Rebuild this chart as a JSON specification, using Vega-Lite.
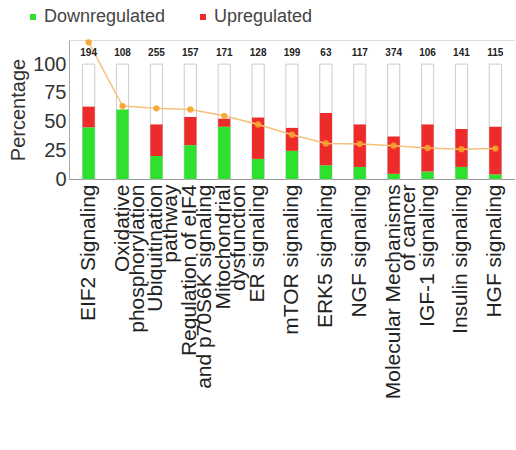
{
  "$schema": "https://vega.github.io/schema/vega-lite/v6.json",
  "width": 446,
  "height": 139,
  "padding": {"left": 8, "top": 8, "right": 0, "bottom": 5},
  "config": {
    "font": "Liberation Sans",
    "view": {"stroke": "#dddddd"},
    "axis": {"grid": false, "ticks": false, "domainColor": "#aaaaaa", "labelColor": "#333333", "titleColor": "#333333"}
  },
  "data": {
    "values": [
      {"pathway": "EIF2 Signaling", "Downregulated": 45, "Upregulated": 18, "molecules": 194, "score": 119},
      {"pathway": "Oxidative|phosphorylation", "Downregulated": 60.5, "Upregulated": 0, "molecules": 108, "score": 63.5},
      {"pathway": "Ubiquitination|pathway", "Downregulated": 20, "Upregulated": 27.5, "molecules": 255, "score": 61.5},
      {"pathway": "Regulation of eIF4|and p70S6K signaling", "Downregulated": 29.5, "Upregulated": 24.5, "molecules": 157, "score": 60.5},
      {"pathway": "Mitochondrial|dysfunction", "Downregulated": 45.5, "Upregulated": 7, "molecules": 171, "score": 55},
      {"pathway": "ER signaling", "Downregulated": 17.5, "Upregulated": 36, "molecules": 128, "score": 47.5},
      {"pathway": "mTOR signaling", "Downregulated": 24.5, "Upregulated": 20, "molecules": 199, "score": 38.5},
      {"pathway": "ERK5 signaling", "Downregulated": 12, "Upregulated": 45.5, "molecules": 63, "score": 31},
      {"pathway": "NGF signaling", "Downregulated": 10.5, "Upregulated": 37, "molecules": 117, "score": 30.5},
      {"pathway": "Molecular Mechanisms|of cancer", "Downregulated": 4.5, "Upregulated": 32.5, "molecules": 374, "score": 29},
      {"pathway": "IGF-1 signaling", "Downregulated": 6.5, "Upregulated": 41, "molecules": 106, "score": 27},
      {"pathway": "Insulin signaling", "Downregulated": 10.5, "Upregulated": 33, "molecules": 141, "score": 26},
      {"pathway": "HGF signaling", "Downregulated": 4, "Upregulated": 41.5, "molecules": 115, "score": 26.5}
    ]
  },
  "encoding": {
    "x": {
      "field": "pathway",
      "type": "nominal",
      "sort": null,
      "scale": {"paddingInner": 0.64, "paddingOuter": 0.4},
      "axis": {
        "title": null,
        "labelAngle": -90,
        "labelFontSize": 21,
        "labelLineHeight": 15,
        "labelPadding": 5,
        "labelLimit": 400,
        "labelColor": "#222222",
        "labelExpr": "split(datum.label, '|')",
        "domainColor": "#999999"
      }
    }
  },
  "layer": [
    {
      "mark": {"type": "bar", "fill": "white", "stroke": "#cccccc", "strokeWidth": 1},
      "encoding": {
        "y": {
          "datum": 100,
          "type": "quantitative",
          "scale": {"domain": [0, 121], "nice": false},
          "axis": {"title": "Percentage", "titleFontSize": 20, "titleFontWeight": "normal", "titlePadding": 4, "values": [0, 25, 50, 75, 100], "labelFontSize": 20, "labelPadding": 3}
        }
      }
    },
    {
      "transform": [{"fold": ["Downregulated", "Upregulated"], "as": ["regulation", "percent"]}],
      "mark": {"type": "bar"},
      "encoding": {
        "y": {
          "field": "percent",
          "type": "quantitative",
          "stack": "zero",
          "axis": {"title": "Percentage", "titleFontSize": 20, "titleFontWeight": "normal", "titlePadding": 4, "values": [0, 25, 50, 75, 100], "labelFontSize": 20, "labelPadding": 3}
        },
        "color": {
          "field": "regulation",
          "type": "nominal",
          "scale": {"domain": ["Downregulated", "Upregulated"], "range": ["#2fe02f", "#ee2b2b"]},
          "legend": {
            "title": null,
            "orient": "none",
            "legendX": -45,
            "legendY": -32,
            "direction": "horizontal",
            "columns": 2,
            "symbolType": "square",
            "symbolSize": 36,
            "labelFontSize": 18,
            "labelColor": "#444444",
            "labelOffset": 2,
            "columnPadding": 28
          }
        },
        "order": {"field": "regulation", "sort": "ascending"}
      }
    },
    {
      "mark": {"type": "line", "color": "#f4c27c", "strokeWidth": 1.5},
      "encoding": {
        "y": {"field": "score", "type": "quantitative", "axis": {"title": "Percentage", "titleFontSize": 20, "titleFontWeight": "normal", "titlePadding": 4, "values": [0, 25, 50, 75, 100], "labelFontSize": 20, "labelPadding": 3}}
      }
    },
    {
      "mark": {"type": "point", "filled": true, "color": "#f8a22a", "size": 40, "opacity": 0.9},
      "encoding": {
        "y": {"field": "score", "type": "quantitative", "axis": {"title": "Percentage", "titleFontSize": 20, "titleFontWeight": "normal", "titlePadding": 4, "values": [0, 25, 50, 75, 100], "labelFontSize": 20, "labelPadding": 3}}
      }
    },
    {
      "mark": {"type": "text", "fontSize": 10, "fontWeight": "bold", "color": "#222222"},
      "encoding": {
        "y": {"datum": 110, "type": "quantitative", "axis": {"title": "Percentage", "titleFontSize": 20, "titleFontWeight": "normal", "titlePadding": 4, "values": [0, 25, 50, 75, 100], "labelFontSize": 20, "labelPadding": 3}},
        "text": {"field": "molecules", "type": "quantitative"}
      }
    }
  ]
}
